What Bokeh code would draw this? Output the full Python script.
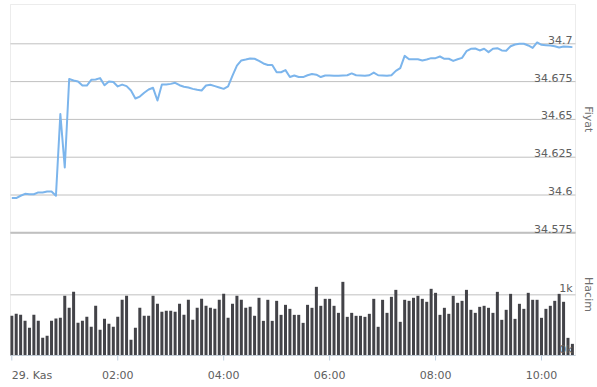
import math
import pandas as pd
from bokeh.plotting import figure
from bokeh.models import Range1d, Label, BoxAnnotation, ColumnDataSource
from bokeh.embed import file_html
from bokeh.resources import INLINE

# ---- data (5-minute bars, 29 Nov) ----
price = [
    34.598, 34.598, 34.5995, 34.6008, 34.6005, 34.6005, 34.6017, 34.6017, 34.6023, 34.6023,
    34.5995, 34.6535, 34.6182, 34.6767, 34.6757, 34.6751, 34.6724, 34.6724, 34.6762, 34.6764,
    34.6773, 34.6726, 34.6751, 34.6747, 34.6718, 34.673, 34.672, 34.6691, 34.6638, 34.6651,
    34.6676, 34.6698, 34.6709, 34.6625, 34.6731, 34.6731, 34.6735, 34.6742, 34.6726, 34.6716,
    34.6711, 34.6702, 34.6696, 34.6691, 34.6724, 34.6729, 34.672, 34.6711, 34.6702, 34.6718,
    34.679, 34.6856, 34.689, 34.6896, 34.6903, 34.6901, 34.6887, 34.687, 34.686, 34.686,
    34.6812, 34.6812, 34.6826, 34.678, 34.679, 34.678, 34.678, 34.6792, 34.680, 34.6796,
    34.678, 34.679, 34.679, 34.6788, 34.6788, 34.679, 34.6792, 34.6804, 34.6792, 34.679,
    34.6788, 34.6792, 34.681, 34.6792, 34.679, 34.6788, 34.6792, 34.6821, 34.6839, 34.692,
    34.6898, 34.6898, 34.6898, 34.689, 34.6896, 34.6905, 34.6905, 34.6916, 34.6901, 34.6901,
    34.6887, 34.6898, 34.6907, 34.6951, 34.6967, 34.6969, 34.6956, 34.6967, 34.6945, 34.6967,
    34.6971, 34.6956, 34.6954, 34.6984, 34.6995, 34.7, 34.7, 34.6989, 34.6973, 34.7009,
    34.6993, 34.6991, 34.6989, 34.6984, 34.6976, 34.6982, 34.698, 34.6978,
]
volume = [
    654, 687, 670, 571, 456, 670, 571, 291, 324, 571, 610, 621, 984, 786, 1049, 538, 571, 637,
    473, 819, 423, 604, 522, 473, 637, 918, 984, 258, 456, 786, 654, 654, 984,
    852, 720, 736, 736, 720, 852, 670, 918, 588, 786, 934, 819, 786, 769, 918, 1016, 621, 852,
    984, 918, 786, 802, 654, 951, 571, 918, 571, 901, 670, 835, 769,
    670, 670, 538, 835, 786, 1132, 819, 934, 934, 819, 703, 1214, 637, 703, 654, 654, 637, 687,
    934, 473, 918, 703, 967, 1082, 555, 918, 901, 951, 984, 934, 885, 1099,
    1033, 670, 786, 687, 984, 868, 901, 1082, 753, 703, 802, 819, 786, 703, 1049, 588, 753,
    1016, 604, 852, 769, 1033, 918, 918, 621, 769, 819, 901, 1016, 885, 291, 192,
]
start_time = "2024-11-29 00:00"
x_tick_times = ["2024-11-29 00:00", "2024-11-29 02:00", "2024-11-29 04:00",
                "2024-11-29 06:00", "2024-11-29 08:00", "2024-11-29 10:00"]
x_tick_labels = ["29. Kas", "02:00", "04:00", "06:00", "08:00", "10:00"]
price_ticks = [34.575, 34.6, 34.625, 34.65, 34.675, 34.7]
price_tick_labels = ["34.575", "34.6", "34.625", "34.65", "34.675", "34.7"]
volume_ticks = [0, 1000]
volume_tick_labels = ["0k", "1k"]

# ---- layout constants (pixels) ----
W, H = 597, 387
PX_PER_HOUR = 52.97          # time scale
X0_PX = 11.3                 # where 00:00 sits
PLOT_L, PLOT_R = 10, 575     # plot-area edges
PLOT_T = 4
VOL_ZERO_PX, VOL_PX_PER_K = 355, 60.67
P_REF, P_REF_PX, P_PX_PER_UNIT = 34.7, 43.3, 1512.0

def ms(ts):
    return pd.Timestamp(ts).value / 1e6

t0 = ms(start_time)
HOUR = 3_600_000
def px_to_t(px):
    return t0 + (px - X0_PX) / PX_PER_HOUR * HOUR
def px_to_vol(py):
    return (VOL_ZERO_PX - py) / VOL_PX_PER_K * 1000
def px_to_price(py):
    return P_REF - (py - P_REF_PX) / P_PX_PER_UNIT

times = pd.date_range(start_time, periods=len(price), freq="5min")
src = ColumnDataSource(dict(t=times, price=price, vol=volume))

FONT = "DejaVu Sans"
LBL = "#606060"
GRID = "#C0C0C0"
AXIS = "#C0D0E0"

p = figure(width=W, height=H, x_axis_type="datetime",
           x_range=Range1d(px_to_t(0), px_to_t(W)),
           y_range=Range1d(px_to_vol(H), px_to_vol(0)),
           x_axis_location=None, y_axis_location=None,
           output_backend="svg", toolbar_location=None,
           min_border=0, min_border_left=0, min_border_right=0,
           min_border_top=0, min_border_bottom=0,
           background_fill_color="white", border_fill_color="white",
           outline_line_color=None)
p.extra_y_ranges = {"price": Range1d(px_to_price(H), px_to_price(0))}
p.grid.visible = False

xl, xr = px_to_t(PLOT_L), px_to_t(PLOT_R)

# horizontal grid lines
p.segment(x0=[xl] * len(price_ticks), x1=[xr] * len(price_ticks), y0=price_ticks, y1=price_ticks,
          y_range_name="price", line_color=GRID, line_width=1)
p.segment(x0=[xl], x1=[xr], y0=volume_ticks[1:], y1=volume_ticks[1:],
          line_color=GRID, line_width=1)
# pane separator
p.segment(x0=[xl], x1=[xr], y0=[price_ticks[0]], y1=[price_ticks[0]],
          y_range_name="price", line_color=GRID, line_width=2)

# glyphs
p.vbar(x="t", top="vol", bottom=0, width=204_000, source=src,
       fill_color="#434348", line_color=None)
p.line(x="t", y="price", source=src, y_range_name="price",
       line_color="#7CB5EC", line_width=2, line_join="round")

# plot-area border
p.add_layout(BoxAnnotation(left=xl, right=xr, bottom=0, top=px_to_vol(PLOT_T),
                           fill_color=None, line_color=GRID, line_width=1))

# x axis line and ticks
tick_ms = [ms(t) for t in x_tick_times]
p.segment(x0=[xl], x1=[xr], y0=[0], y1=[0], line_color=AXIS, line_width=1)
p.segment(x0=tick_ms, x1=tick_ms, y0=[0] * len(tick_ms),
          y1=[px_to_vol(VOL_ZERO_PX + 5)] * len(tick_ms), line_color=AXIS, line_width=1)

for i, (t, lab) in enumerate(zip(tick_ms, x_tick_labels)):
    p.add_layout(Label(x=t, y=H - 374.5, y_units="screen", text=lab,
                       text_align="left" if i == 0 else "center",
                       text_baseline="alphabetic", text_font=FONT,
                       text_font_size="11px", text_color=LBL))

for v, lab in zip(price_ticks, price_tick_labels):
    p.add_layout(Label(x=PLOT_R - 3, x_units="screen", y=v, y_range_name="price",
                       text=lab, text_align="right", text_baseline="bottom",
                       text_font=FONT, text_font_size="11px", text_color=LBL))
for v, lab in zip(volume_ticks, volume_tick_labels):
    p.add_layout(Label(x=PLOT_R - 3, x_units="screen", y=v,
                       text=lab, text_align="right", text_baseline="bottom",
                       text_font=FONT, text_font_size="11px", text_color=LBL))

# axis titles (rotated, reading top to bottom)
p.add_layout(Label(x=588.3, x_units="screen", y=H - 118.8, y_units="screen", text="Fiyat",
                   angle=-math.pi / 2, text_align="center", text_baseline="middle",
                   text_font=FONT, text_font_size="11px", text_color="#707070"))
p.add_layout(Label(x=588.3, x_units="screen", y=H - 294, y_units="screen", text="Hacim",
                   angle=-math.pi / 2, text_align="center", text_baseline="middle",
                   text_font=FONT, text_font_size="11px", text_color="#707070"))

open("out.html", "w").write(file_html(p, INLINE, title="Fiyat / Hacim"))
